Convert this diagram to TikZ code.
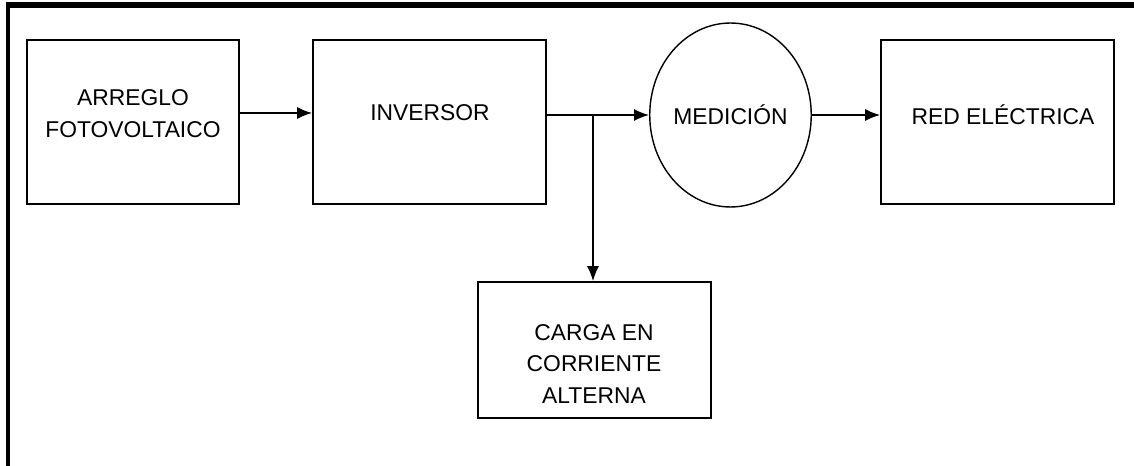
\documentclass[tikz,border=0pt]{standalone}
\usepackage{fontspec}
\setmainfont{Liberation Sans}
\usetikzlibrary{math,arrows.meta,shapes.geometric}

\begin{document}
\begin{tikzpicture}[x=0.02cm,y=-0.02cm,
    bloque/.style={draw,line width=1pt,minimum width=\bw cm,minimum height=\bh cm,inner sep=0pt},
    medicion/.style={ellipse,draw,line width=0.8pt,minimum width=3.1cm,minimum height=3.68cm,inner sep=0pt,
      font=\fontsize{13}{18}\selectfont},
    texto/.style={align=center,inner sep=0pt,font=\fontsize{13}{18}\selectfont},
    flecha/.style={line width=0.9pt,-{Latex[length=0.3cm,width=0.24cm]}},
    linea/.style={line width=0.9pt}]
  \tikzmath{\bw = 4.66; \bh = 3.28;}
  \useasboundingbox (0,0) rectangle (1134,466);

  % marco
  \draw[line width=2.4pt] (6,4) -- (1134,4);
  \draw[line width=0.8pt] (9,7) -- (1134,7);
  \draw[line width=2.4pt] (8,4) -- (8,466);

  % bloques
  \node[bloque,minimum width=4.24cm] (arr) at (133,122) {};
  \node[texto] (arrtxt) at (133,113.5) {ARREGLO\\FOTOVOLTAICO};
  \node[bloque] (inv) at (429.5,122) {};
  \node[texto] (invtxt) at (430,113) {INVERSOR};
  \node[medicion] (med) at (730.5,115) {MEDICIÓN};
  \node[bloque] (red) at (997.5,122) {};
  \node[texto] (redtxt) at (1003,115) {RED ELÉCTRICA};
  \node[bloque,minimum height=2.72cm] (car) at (594.5,350) {};
  \node[texto] (cartxt) at (594,364) {CARGA EN\\CORRIENTE\\ALTERNA};

  \coordinate (nivel) at (0,113);
  \coordinate (div) at (593,115);

  % conexiones
  \draw[flecha] (arr.east |- nivel) -- (inv.west |- nivel);
  \draw[linea] (inv.east |- div) -- (div);
  \draw[flecha] (div) -- (med.west);
  \draw[flecha] (div) -- (div |- car.north);
  \draw[flecha] (med.east) -- (red.west |- med.east);
\end{tikzpicture}
\end{document}
